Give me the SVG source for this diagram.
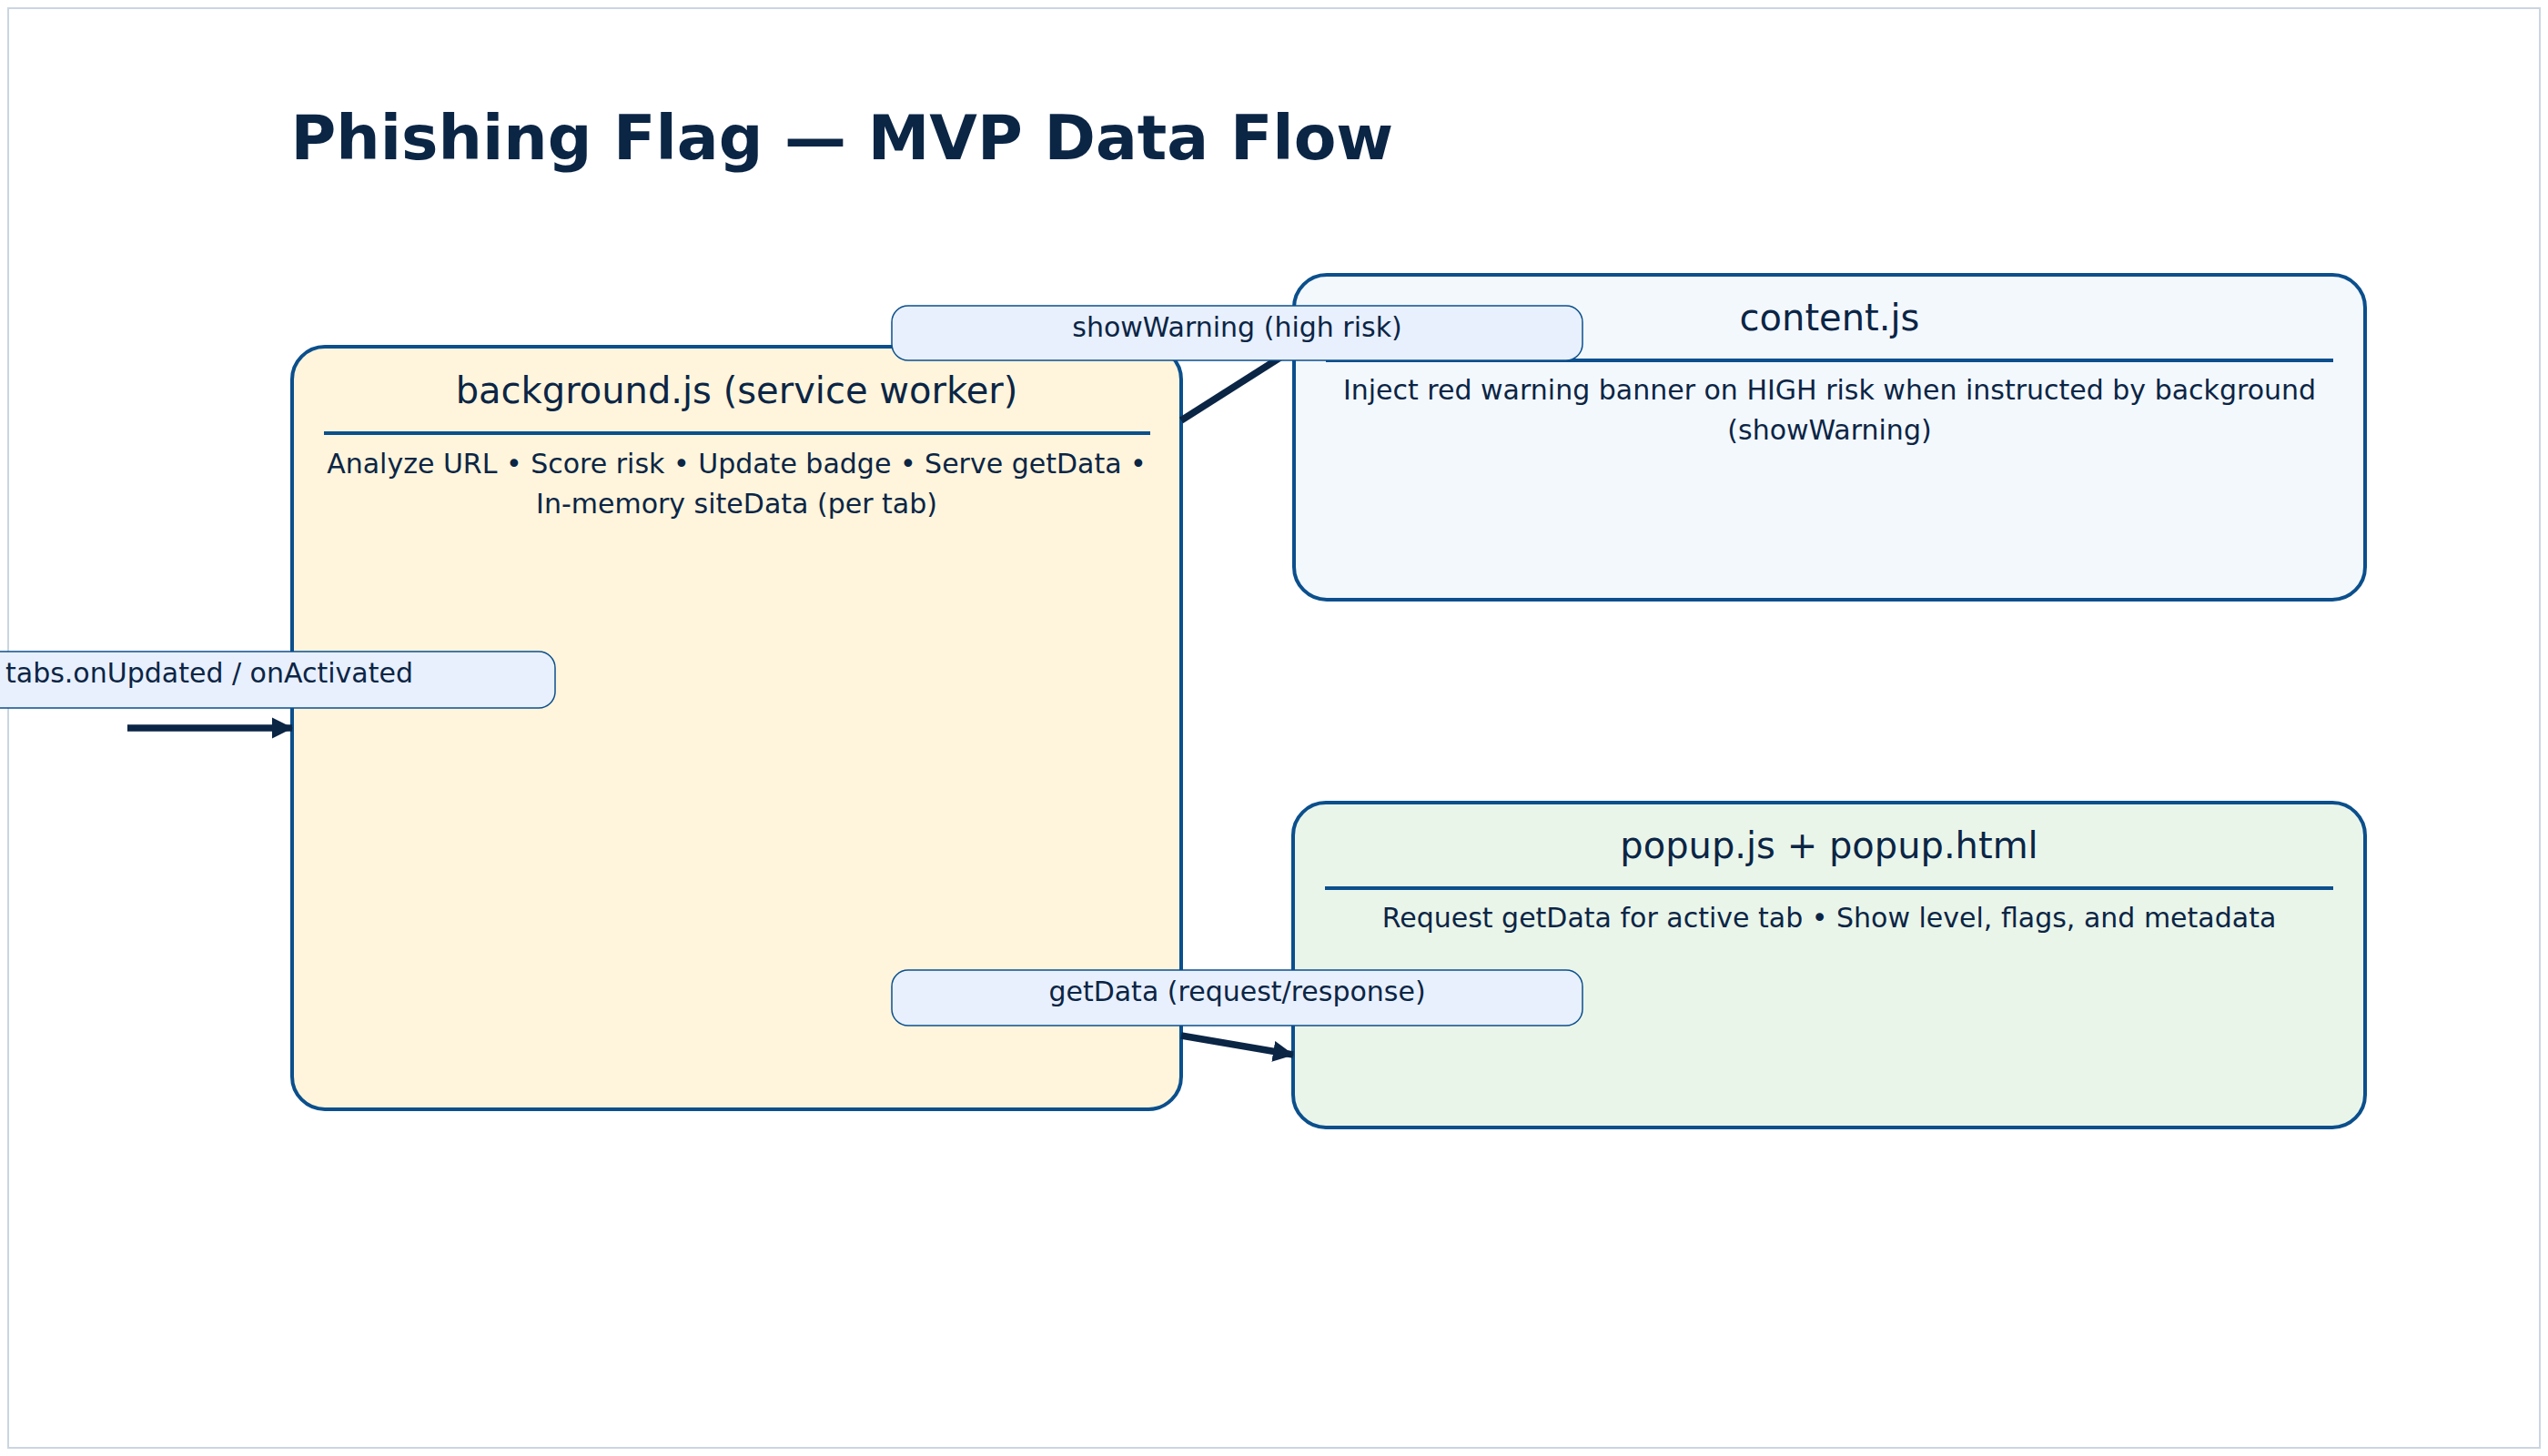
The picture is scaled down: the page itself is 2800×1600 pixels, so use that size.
<svg xmlns="http://www.w3.org/2000/svg" width="2800" height="1600" viewBox="0 0 2800 1600">
<defs>
<style>
.t{font-family:"DejaVu Sans","Liberation Sans",sans-serif;fill:#0b2545}
.h{font-size:40px;text-anchor:middle}
.d{font-size:30px;text-anchor:middle}
.box{stroke:#0b4f8c;stroke-width:4}
.div{stroke:#0b4f8c;stroke-width:4}
.lbl{fill:#e8f0fd;stroke:#0b4f8c;stroke-width:1.5}
.edge{stroke:#0b2545;stroke-width:7.5;fill:none}
</style>
<marker id="arr" markerUnits="userSpaceOnUse" markerWidth="23" markerHeight="24" refX="22" refY="12" orient="auto">
<path d="M0,0.5 L23,12 L0,23.5 z" fill="#0b2545"/>
</marker>
</defs>
<rect x="0" y="0" width="2800" height="1600" fill="#ffffff"/>
<rect x="9" y="9" width="2782" height="1582" fill="none" stroke="#cbd5e1" stroke-width="2"/>
<text class="t" x="319.5" y="175" font-size="68" font-weight="bold">Phishing Flag — MVP Data Flow</text>

<g id="background">
<rect class="box" x="321" y="381" width="977" height="838" rx="36" fill="#fef5dc"/>
<text class="t h" x="809.5" y="443">background.js (service worker)</text>
<line class="div" x1="356" y1="476" x2="1264" y2="476"/>
<text class="t d" x="809.5" y="520">Analyze URL • Score risk • Update badge • Serve getData •</text>
<text class="t d" x="809.5" y="564">In-memory siteData (per tab)</text>
</g>

<g id="content">
<rect class="box" x="1422" y="302" width="1177" height="357" rx="36" fill="#f3f8fd"/>
<text class="t h" x="2010.5" y="363">content.js</text>
<line class="div" x1="1457" y1="396" x2="2564" y2="396"/>
<text class="t d" x="2010.5" y="439">Inject red warning banner on HIGH risk when instructed by background</text>
<text class="t d" x="2010.5" y="483">(showWarning)</text>
</g>

<g id="popup">
<rect class="box" x="1421" y="882" width="1178" height="357" rx="36" fill="#eaf5ea"/>
<text class="t h" x="2010" y="943">popup.js + popup.html</text>
<line class="div" x1="1456" y1="976" x2="2564" y2="976"/>
<text class="t d" x="2010" y="1019">Request getData for active tab • Show level, flags, and metadata</text>
</g>

<g id="connectors">
<line class="edge" x1="140" y1="800" x2="321" y2="800" marker-end="url(#arr)"/>
<line class="edge" x1="1298" y1="462" x2="1446" y2="368" marker-end="url(#arr)"/>
<line class="edge" x1="1298" y1="1138" x2="1421" y2="1159" marker-end="url(#arr)"/>
<rect class="lbl" x="-150" y="716" width="760" height="62" rx="18"/>
<text class="t d" x="230" y="750">tabs.onUpdated / onActivated</text>
<rect class="lbl" x="980" y="336" width="759" height="60" rx="18"/>
<text class="t d" x="1359.5" y="370">showWarning (high risk)</text>
<rect class="lbl" x="980" y="1066" width="759" height="61" rx="18"/>
<text class="t d" x="1359.5" y="1100">getData (request/response)</text>
</g>
</svg>
